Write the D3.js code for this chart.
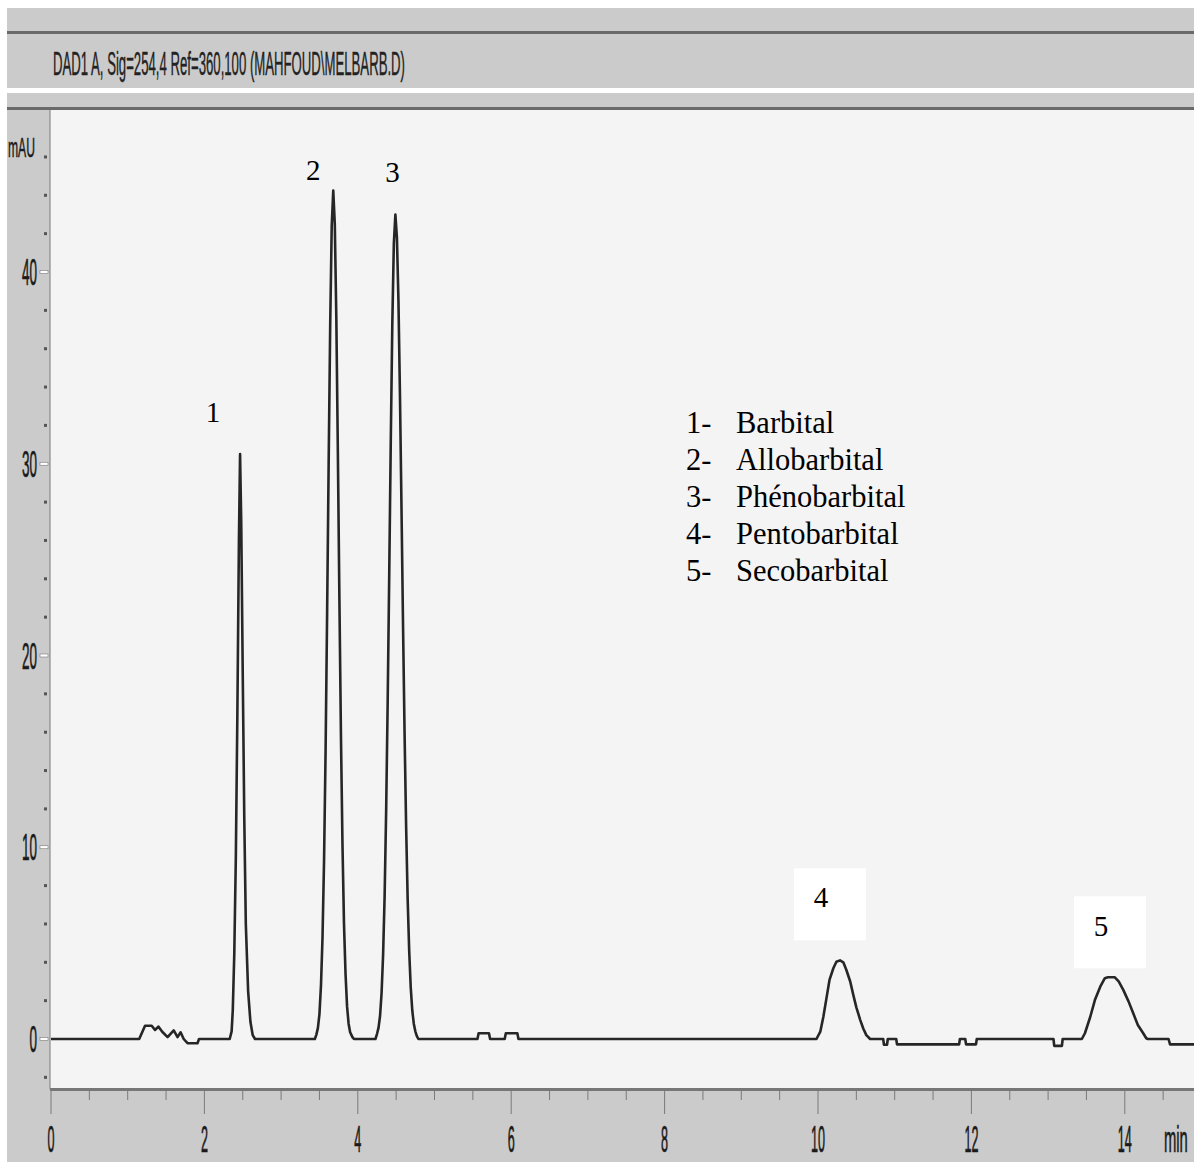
<!DOCTYPE html>
<html>
<head>
<meta charset="utf-8">
<script src="https://cdn.jsdelivr.net/npm/d3@7"></script>
<style>
  html, body { margin: 0; padding: 0; background: #ffffff; }
  svg { display: block; }
</style>
</head>
<body>
<svg id="chart" width="1194" height="1162"></svg>
<script>
// DAD signal at 254 nm: retention time (min) and absorbance (mAU)
const retentionTimes = [
  0, 1.15, 1.226, 1.313, 1.356, 1.40, 1.45, 1.52, 1.60, 1.65, 1.69, 1.73, 1.78, 1.91, 1.93,
  2.33, 2.355, 2.37, 2.39, 2.41, 2.43, 2.45, 2.465, 2.48, 2.50, 2.52, 2.54, 2.57, 2.60, 2.63, 2.66,
  3.44, 3.46, 3.48, 3.50, 3.52, 3.54, 3.56, 3.58, 3.60, 3.62, 3.64, 3.66, 3.68, 3.70, 3.72, 3.74,
  3.76, 3.78, 3.80, 3.82, 3.84, 3.86, 3.88, 3.90, 3.93, 3.95,
  4.23, 4.25, 4.27, 4.29, 4.31, 4.33, 4.35, 4.37, 4.39, 4.41, 4.43, 4.45, 4.47, 4.49, 4.51, 4.53,
  4.55, 4.57, 4.59, 4.61, 4.63, 4.65, 4.67, 4.69, 4.71, 4.73, 4.75, 4.77, 4.79,
  5.56, 5.575, 5.71, 5.725, 5.915, 5.93, 6.08, 6.095,
  9.98, 10.03, 10.07, 10.11, 10.15, 10.20, 10.24, 10.287, 10.33, 10.37, 10.42, 10.46, 10.50, 10.55,
  10.59, 10.63, 10.68,
  10.85, 10.86, 10.90, 10.91, 11.02, 11.03, 11.84, 11.85, 11.92, 11.93, 12.06, 12.07,
  13.07, 13.08, 13.18, 13.19,
  13.44, 13.48, 13.55, 13.61, 13.68, 13.74, 13.78, 13.87, 13.92, 13.98, 14.05, 14.11, 14.17, 14.24,
  14.28, 14.30, 14.57, 14.59, 15.0
];
const absorbance = [
  0, 0, 0.69, 0.69, 0.47, 0.65, 0.38, 0.1, 0.45, 0.1, 0.35, 0, -0.22, -0.22, 0,
  0, 0.4, 1.5, 4.5, 9.5, 17, 26, 30.5, 27, 19, 11.5, 6, 2.5, 0.9, 0.2, 0,
  0, 0.23, 0.58, 1.3, 2.8, 5.3, 9.3, 15.0, 22.2, 30.0, 37.2, 42.4, 44.25, 42.5, 37.6, 30.6,
  23.0, 15.9, 10.2, 6.0, 3.4, 1.7, 0.8, 0.35, 0.1, 0,
  0, 0.26, 0.58, 1.2, 2.4, 4.4, 7.5, 12.0, 17.7, 24.3, 31.2, 37.3, 41.5, 43.0, 41.8, 38.5,
  33.5, 27.6, 21.5, 15.9, 11.1, 7.3, 4.6, 2.7, 1.5, 0.8, 0.4, 0.15, 0,
  0, 0.3, 0.3, 0, 0, 0.3, 0.3, 0,
  0, 0.38, 1.16, 2.12, 3.08, 3.69, 4.03, 4.1, 4.0, 3.6, 3.0, 2.3, 1.65, 1.0,
  0.55, 0.2, 0,
  0, -0.3, -0.3, 0, 0, -0.28, -0.28, 0, 0, -0.28, -0.28, 0,
  0, -0.36, -0.36, 0,
  0, 0.3, 1.16, 2.03, 2.73, 3.17, 3.22, 3.22, 3.0, 2.56, 1.95, 1.34, 0.73, 0.3,
  0.04, 0, 0, -0.28, -0.28
];

// Identified peaks
const peakNumbers = ["1", "2", "3", "4", "5"];
const peakTimes = [2.465, 3.68, 4.49, 10.287, 13.82];
const peakHeights = [30.5, 44.25, 43.0, 4.1, 3.22];
const compoundNames = ["Barbital", "Allobarbital", "Phénobarbital", "Pentobarbital", "Secobarbital"];

// Axis ticks
const xTickLabels = [0, 2, 4, 6, 8, 10, 12, 14];
const yTickLabels = [0, 10, 20, 30, 40];
const titleText = "DAD1 A, Sig=254,4 Ref=360,100 (MAHFOUD\\MELBARB.D)";

const W = 1194, H = 1162;
const plotLeft = 50, plotTop = 110, axisY = 1089;
const narrowFont = "'Liberation Sans', Arial, sans-serif";
const serif = "'Liberation Serif', 'Times New Roman', serif";

const svg = d3.select("#chart");

const x = d3.scaleLinear().domain([0, 14]).range([51, 1124.8]);
const y = d3.scaleLinear().domain([0, 40]).range([1039, 272]);

// ---- window frame ----
const frameGray = "#cbcbcb";
svg.append("rect").attr("x", 0).attr("y", 0).attr("width", W).attr("height", H).attr("fill", "#ffffff");
svg.append("rect").attr("x", 7).attr("y", 8).attr("width", W - 7).attr("height", H - 8).attr("fill", frameGray);
// header rules
svg.append("rect").attr("x", 7).attr("y", 31).attr("width", W - 7).attr("height", 3).attr("fill", "#6a6a6a");
svg.append("rect").attr("x", 7).attr("y", 88).attr("width", W - 7).attr("height", 5).attr("fill", "#ffffff");
svg.append("rect").attr("x", 7).attr("y", 107).attr("width", W - 7).attr("height", 3).attr("fill", "#6a6a6a");

// header title (narrow instrument font)
svg.append("text")
  .attr("x", 53).attr("y", 75)
  .attr("font-family", narrowFont)
  .attr("font-size", 34)
  .attr("textLength", 352)
  .attr("lengthAdjust", "spacingAndGlyphs")
  .attr("fill", "#222")
  .attr("stroke", "#222").attr("stroke-width", 0.4)
  .text(titleText);

// plot area
svg.append("rect")
  .attr("x", plotLeft).attr("y", plotTop)
  .attr("width", W - plotLeft).attr("height", axisY - plotTop)
  .attr("fill", "#f4f4f4");

// ---- y axis ----
svg.append("line")
  .attr("x1", plotLeft).attr("x2", plotLeft)
  .attr("y1", plotTop).attr("y2", axisY)
  .attr("stroke", "#8a8a8a").attr("stroke-width", 1.2);

const yMinor = d3.range(-2, 48, 2).filter(v => v % 10 !== 0);
svg.append("g").selectAll("rect").data(yMinor).join("rect")
  .attr("x", 44).attr("y", d => y(d) - 1.5)
  .attr("width", 3).attr("height", 3)
  .attr("fill", "#555");

const yAxisG = svg.append("g");
yAxisG.selectAll("rect").data(yTickLabels).join("rect")
  .attr("x", 40).attr("y", d => y(d) - 1.5)
  .attr("width", 8).attr("height", 3)
  .attr("fill", "#ffffff").attr("stroke", "#777").attr("stroke-width", 0.6);
yAxisG.selectAll("text").data(yTickLabels).join("text")
  .attr("x", 37).attr("y", d => y(d) + 13)
  .attr("text-anchor", "end")
  .attr("font-family", narrowFont)
  .attr("font-size", 37)
  .attr("textLength", d => String(d).length * 7.5)
  .attr("lengthAdjust", "spacingAndGlyphs")
  .attr("fill", "#1a1a1a")
  .attr("stroke", "#1a1a1a").attr("stroke-width", 0.7)
  .text(d => d);

svg.append("text")
  .attr("x", 8).attr("y", 157)
  .attr("font-family", narrowFont)
  .attr("font-size", 27)
  .attr("textLength", 27)
  .attr("lengthAdjust", "spacingAndGlyphs")
  .attr("fill", "#1a1a1a")
  .attr("stroke", "#1a1a1a").attr("stroke-width", 0.5)
  .text("mAU");

// ---- x axis ----
svg.append("rect")
  .attr("x", plotLeft).attr("y", axisY - 1)
  .attr("width", W - plotLeft).attr("height", 3)
  .attr("fill", "#777");

const xMinor = d3.range(0, 30).map(i => i * 0.5).filter(v => v % 2 !== 0);
svg.append("g").selectAll("line").data(xMinor).join("line")
  .attr("x1", d => x(d)).attr("x2", d => x(d))
  .attr("y1", axisY + 2).attr("y2", axisY + 11)
  .attr("stroke", "#7a7a7a").attr("stroke-width", 1);

const xAxisG = svg.append("g");
xAxisG.selectAll("line").data(xTickLabels).join("line")
  .attr("x1", d => x(d)).attr("x2", d => x(d))
  .attr("y1", axisY + 2).attr("y2", axisY + 25)
  .attr("stroke", "#7a7a7a").attr("stroke-width", 1);
xAxisG.selectAll("text").data(xTickLabels).join("text")
  .attr("x", d => x(d)).attr("y", 1152)
  .attr("text-anchor", "middle")
  .attr("font-family", narrowFont)
  .attr("font-size", 37)
  .attr("textLength", d => String(d).length * 7)
  .attr("lengthAdjust", "spacingAndGlyphs")
  .attr("fill", "#1a1a1a")
  .attr("stroke", "#1a1a1a").attr("stroke-width", 0.7)
  .text(d => d);

// unit label, squeezed horizontally like the other axis text
svg.append("text")
  .attr("transform", "translate(1164,1152) scale(0.4,1)")
  .attr("font-family", narrowFont)
  .attr("font-size", 37)
  .attr("fill", "#1a1a1a")
  .attr("stroke", "#1a1a1a").attr("stroke-width", 0.7)
  .text("min");

// ---- chromatogram trace ----
const trace = retentionTimes.map((t, i) => [t, absorbance[i]]);
svg.append("defs").append("clipPath").attr("id", "plotClip")
  .append("rect").attr("x", plotLeft).attr("y", plotTop)
  .attr("width", W - plotLeft).attr("height", axisY - plotTop);

svg.append("path")
  .datum(trace)
  .attr("clip-path", "url(#plotClip)")
  .attr("fill", "none")
  .attr("stroke", "#262626")
  .attr("stroke-width", 2.6)
  .attr("stroke-linejoin", "round")
  .attr("d", d3.line().x(d => x(d[0])).y(d => y(d[1])));

// ---- peak annotations ----
// label offsets from each apex (px): plain numbers for 1-3, boxed numbers for 4-5
const labelLayout = [
  { dx: -27, dy: -32, box: false },
  { dx: -20, dy: -11, box: false },
  { dx: -3,  dy: -32, box: false },
  { dx: -19, dy: -53, box: true, bx: -46, by: -92 },
  { dx: -10, dy: -41, box: true, bx: -37, by: -81 }
];
const ann = svg.append("g");
peakNumbers.forEach((lab, i) => {
  const px = x(peakTimes[i]), py = y(peakHeights[i]);
  const L = labelLayout[i];
  if (L.box) {
    ann.append("rect")
      .attr("x", px + L.bx).attr("y", py + L.by)
      .attr("width", 72).attr("height", 72)
      .attr("fill", "#ffffff");
  }
  ann.append("text")
    .attr("x", px + L.dx).attr("y", py + L.dy)
    .attr("text-anchor", "middle")
    .attr("font-family", serif)
    .attr("font-size", 29)
    .attr("fill", "#000")
    .text(lab);
});

// ---- legend ----
const legend = svg.append("g");
compoundNames.forEach((name, i) => {
  const by = 433 + i * 37;
  legend.append("text")
    .attr("x", 686).attr("y", by)
    .attr("font-family", serif).attr("font-size", 30.5).attr("fill", "#000")
    .text(peakNumbers[i] + "-");
  legend.append("text")
    .attr("x", 736).attr("y", by)
    .attr("font-family", serif).attr("font-size", 30.5).attr("fill", "#000")
    .text(name);
});
</script>
</body>
</html>
